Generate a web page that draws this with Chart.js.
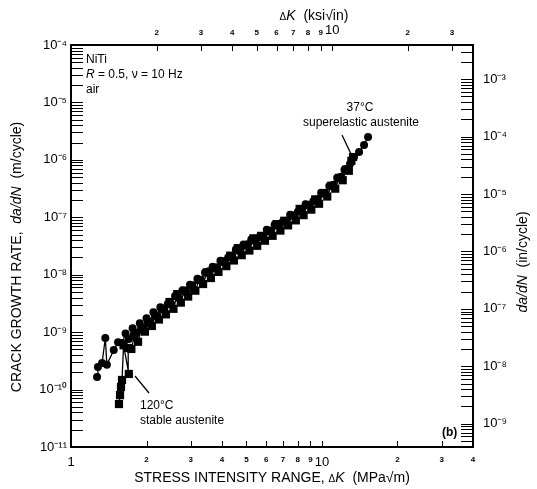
<!DOCTYPE html>
<html><head><meta charset="utf-8">
<script src="https://cdn.jsdelivr.net/npm/chart.js@4.4.0/dist/chart.umd.min.js"></script>
<style>html,body{margin:0;padding:0;background:#fff}canvas{display:block}</style>
</head><body>
<canvas id="c" width="537" height="489"></canvas>
<script>
// ---- data (ΔK in MPa√m, da/dN in m/cycle) ----
const T37_DK = [1.27,1.28,1.33,1.37,1.39,1.48,1.54,1.60,1.65,1.70,1.76,1.82,1.88,1.94,2.00,2.06,2.13,2.20,2.27,2.35,2.43,2.51,2.60,2.69,2.78,2.88,2.98,3.08,3.19,3.30,3.42,3.54,3.67,3.80,3.94,4.08,4.23,4.38,4.54,4.70,4.87,5.05,5.23,5.42,5.62,5.82,6.03,6.25,6.48,6.71,6.96,7.21,7.47,7.74,8.02,8.31,8.61,8.92,9.24,9.58,9.93,10.3,10.7,11.1,11.5,11.9,12.3,12.6,12.94,13.42,14.06,14.72,15.27];
const T37_RATE = [1.66e-10,2.47e-10,2.90e-10,7.9e-10,2.7e-10,4.9e-10,6.7e-10,6.5e-10,9.5e-10,7.6e-10,1.17e-9,9.7e-10,1.43e-9,1.19e-9,1.75e-9,1.51e-9,2.21e-9,1.89e-9,2.70e-9,2.48e-9,3.10e-9,3.08e-9,4.27e-9,3.89e-9,5.29e-9,4.91e-9,6.70e-9,5.60e-9,8.53e-9,7.99e-9,1.09e-8,1.15e-8,1.38e-8,1.34e-8,1.75e-8,1.71e-8,2.00e-8,2.11e-8,2.75e-8,2.59e-8,3.37e-8,3.40e-8,4.10e-8,3.83e-8,4.50e-8,4.70e-8,6.05e-8,5.78e-8,7.40e-8,7.07e-8,8.20e-8,8.69e-8,1.11e-7,1.07e-7,1.25e-7,1.33e-7,1.68e-7,1.64e-7,1.90e-7,2.07e-7,2.68e-7,2.68e-7,3.51e-7,3.67e-7,4.86e-7,5.08e-7,6.70e-7,7.02e-7,8.5e-7,1.12e-6,1.37e-6,1.82e-6,2.50e-6];
const T120_DK = [1.553,1.568,1.582,1.597,1.62,1.70,1.69,1.74,1.79,1.85,1.91,1.97,2.03,2.10,2.17,2.24,2.31,2.39,2.47,2.56,2.65,2.74,2.83,2.93,3.03,3.13,3.24,3.36,3.48,3.61,3.74,3.87,4.01,4.16,4.31,4.46,4.62,4.79,4.96,5.14,5.33,5.52,5.72,5.93,6.14,6.36,6.59,6.83,7.08,7.33,7.60,7.87,8.15,8.45,8.75,9.07,9.40,9.74,10.1,10.5,10.9,11.3,11.7,12.1,12.5,12.8,13.1,13.3];
const T120_RATE = [5.6e-11,8.0e-11,1.11e-10,1.47e-10,5.9e-10,1.87e-10,5.3e-10,5.1e-10,8.6e-10,6.8e-10,1.18e-9,1.02e-9,1.45e-9,1.28e-9,1.95e-9,1.66e-9,2.55e-9,2.04e-9,3.35e-9,2.55e-9,4.60e-9,3.27e-9,5.30e-9,4.17e-9,6.50e-9,5.27e-9,8.10e-9,6.89e-9,1.10e-8,8.76e-9,1.32e-8,1.12e-8,1.68e-8,1.41e-8,2.15e-8,1.77e-8,2.90e-8,2.19e-8,3.25e-8,2.64e-8,4.30e-8,3.19e-8,4.75e-8,3.91e-8,5.80e-8,4.76e-8,7.60e-8,5.87e-8,8.70e-8,7.23e-8,1.07e-7,8.84e-8,1.40e-7,1.09e-7,1.64e-7,1.36e-7,2.05e-7,1.72e-7,2.60e-7,2.30e-7,3.55e-7,3.15e-7,4.85e-7,4.42e-7,6.80e-7,6.46e-7,9.60e-7,1.12e-6];

// ---- axes ----
const X_TICKS = [1,2,3,4,5,6,7,8,9,10,20,30,40];
const X_TICK_LABELS = ['1','2','3','4','5','6','7','8','9','10','2','3','4'];
const X2_TICKS = [2,3,4,5,6,7,8,9,10,20,30];               // ksi√in
const X2_TICK_LABELS = ['2','3','4','5','6','7','8','9','10','2','3'];
const Y_DECADES = [-11,-10,-9,-8,-7,-6,-5,-4];             // m/cycle
const Y2_DECADES = [-10,-9,-8,-7,-6,-5,-4,-3];             // in/cycle
const MULTIPLIERS = [1,2,3,4,5,6,7,8,9];
const MPA_PER_KSI = 1.0988;
const M_PER_IN = 0.0254;
const X_MIN = 1, X_MAX = 40, Y_MIN = 1e-11, Y_MAX = 1e-4;

const FAM = '"Liberation Sans", Arial, Helvetica, sans-serif';
const SUP = {'-':'\u207B','0':'\u2070','1':'\u00B9','2':'\u00B2','3':'\u00B3','4':'\u2074','5':'\u2075','6':'\u2076','7':'\u2077','8':'\u2078','9':'\u2079'};
const sup = s => String(s).split('').map(c => SUP[c]).join('');

function decadeTicks(decades, lo, hi) {
  const out = [];
  decades.forEach(d => MULTIPLIERS.forEach(m => {
    const v = m * Math.pow(10, d);
    if (v >= lo * 0.999 && v <= hi * 1.001) out.push({value: v, major: m === 1, label: m === 1 ? '10' + sup(d) : ''});
  }));
  return out;
}
const yTicks = decadeTicks(Y_DECADES, Y_MIN, Y_MAX);
const y2Ticks = decadeTicks(Y2_DECADES, Y_MIN / M_PER_IN, Y_MAX / M_PER_IN);

const pts = (xs, ys) => xs.map((x, i) => ({x, y: ys[i]}));

function fitBox(size, horiz) {
  return s => { if (horiz) s.height = size; else s.width = size; };
}

const tickFont = ctx => {
  const lbl = ctx.tick && ctx.tick.label;
  return (lbl === '1' || lbl === '10') ? {family: FAM, size: 13} : {family: FAM, size: 8, weight: 'bold'};
};

// ---- inward tick marks ----
const tickMarks = {
  id: 'tickMarks',
  afterDraw(chart) {
    const c = chart.ctx, a = chart.chartArea, S = chart.scales;
    c.save();
    c.strokeStyle = '#000';
    c.lineWidth = 1;
    const seg = (x1, y1, x2, y2) => { c.beginPath(); c.moveTo(x1, y1); c.lineTo(x2, y2); c.stroke(); };
    S.x.ticks.forEach(t => { const p = Math.round(S.x.getPixelForValue(t.value)) + 0.5; if (p > a.left + 2 && p < a.right - 2) seg(p, a.bottom, p, a.bottom - 6); });
    S.x2.ticks.forEach(t => { const p = Math.round(S.x2.getPixelForValue(t.value)) + 0.5; if (p > a.left + 2 && p < a.right - 2) seg(p, a.top, p, a.top + 6); });
    S.y.ticks.forEach(t => { const p = Math.round(S.y.getPixelForValue(t.value)) + 0.5; if (p > a.top + 1 && p < a.bottom - 1) seg(a.left, p, a.left + 12, p); });
    S.y2.ticks.forEach(t => { const p = Math.round(S.y2.getPixelForValue(t.value)) + 0.5; if (p > a.top + 1 && p < a.bottom - 1) seg(a.right, p, a.right - 12, p); });
    c.restore();
  }
};

// ---- titles and annotations (mixed roman/italic text) ----
function rich(c, segs, x, y, align, rot) {
  c.save();
  c.translate(x, y);
  if (rot) c.rotate(rot);
  let w = 0;
  segs.forEach(s => { c.font = s[1]; w += c.measureText(s[0]).width; });
  let cx = align === 'center' ? -w / 2 : 0;
  c.textBaseline = 'middle';
  c.textAlign = 'left';
  c.fillStyle = '#000';
  segs.forEach(s => { c.font = s[1]; c.fillText(s[0], cx, s[2] || 0); cx += c.measureText(s[0]).width; });
  c.restore();
}
const R14 = '14px ' + FAM, I14 = 'italic 14px ' + FAM, D10 = '10px ' + FAM;
const R12 = '12px ' + FAM, I12 = 'italic 12px ' + FAM;

const labels = {
  id: 'labels',
  afterDraw(chart) {
    const c = chart.ctx;
    rich(c, [['STRESS INTENSITY RANGE, ', R14], ['\u0394', D10, 1], ['K', I14], ['  (MPa\u221Am)', R14]], 272, 478, 'center');
    rich(c, [['\u0394', D10, 1], ['K', I14], ['  (ksi\u221Ain)', R14]], 314, 16, 'center');
    rich(c, [['CRACK GROWTH RATE,  ', R14], ['da/dN', I14], ['  (m/cycle)', R14]], 17, 257, 'center', -Math.PI / 2);
    rich(c, [['da/dN', I14], ['  (in/cycle)', R14]], 523, 262, 'center', -Math.PI / 2);
    rich(c, [['NiTi', R12]], 86, 60, 'left');
    rich(c, [['R', I12], [' = 0.5, \u03BD = 10 Hz', R12]], 86, 75, 'left');
    rich(c, [['air', R12]], 86, 90, 'left');
    rich(c, [['37\u00B0C', R12]], 360, 108, 'center');
    rich(c, [['superelastic austenite', R12]], 361, 123, 'center');
    rich(c, [['120\u00B0C', R12]], 140, 406, 'left');
    rich(c, [['stable austenite', R12]], 140, 421, 'left');
    rich(c, [['(b)', 'bold 12px ' + FAM]], 442, 433, 'left');
    c.save();
    c.strokeStyle = '#000'; c.lineWidth = 1.3;
    c.beginPath(); c.moveTo(342, 135); c.lineTo(351, 154); c.stroke();
    c.beginPath(); c.moveTo(135, 376); c.lineTo(149, 393); c.stroke();
    c.restore();
  }
};

const axisCommon = {
  type: 'logarithmic',
  grid: {display: false, drawTicks: false},
  border: {display: true, color: '#000', width: 2},
};

new Chart(document.getElementById('c'), {
  type: 'scatter',
  data: {
    datasets: [
      {label: '37\u00B0C superelastic austenite', data: pts(T37_DK, T37_RATE), showLine: true,
       borderColor: '#000', borderWidth: 1.3, backgroundColor: '#000', pointStyle: 'circle',
       pointRadius: 4.0, pointBorderWidth: 0, xAxisID: 'x', yAxisID: 'y'},
      {label: '120\u00B0C stable austenite', data: pts(T120_DK, T120_RATE), showLine: true,
       borderColor: '#000', borderWidth: 1.3, backgroundColor: '#000', pointStyle: 'rect',
       pointRadius: 5.8, pointBorderWidth: 0, xAxisID: 'x', yAxisID: 'y'}
    ]
  },
  options: {
    responsive: false, animation: false, devicePixelRatio: 1,
    layout: {padding: 0},
    plugins: {legend: {display: false}, tooltip: {enabled: false}},
    scales: {
      x: {...axisCommon, position: 'bottom', min: X_MIN, max: X_MAX,
          afterFit: fitBox(42, true),
          afterBuildTicks: s => { s.ticks = X_TICKS.map((v, i) => ({value: v, label: X_TICK_LABELS[i]})); },
          ticks: {autoSkip: false, maxRotation: 0, padding: 8, color: '#000',
                  callback: (v, i) => X_TICK_LABELS[i], font: tickFont}},
      x2: {...axisCommon, position: 'top', min: X_MIN / MPA_PER_KSI, max: X_MAX / MPA_PER_KSI,
          afterFit: fitBox(45, true),
          afterBuildTicks: s => { s.ticks = X2_TICKS.map((v, i) => ({value: v, label: X2_TICK_LABELS[i]})); },
          ticks: {autoSkip: false, maxRotation: 0, padding: 7, color: '#000',
                  callback: (v, i) => X2_TICK_LABELS[i], font: tickFont}},
      y: {...axisCommon, position: 'left', min: Y_MIN, max: Y_MAX,
          afterFit: fitBox(71, false),
          afterBuildTicks: s => { s.ticks = yTicks.map(t => ({value: t.value})); },
          ticks: {autoSkip: false, padding: 4, color: '#000',
                  callback: (v, i) => yTicks[i].label, font: {family: FAM, size: 13}}},
      y2: {...axisCommon, position: 'right', min: Y_MIN / M_PER_IN, max: Y_MAX / M_PER_IN,
          afterFit: fitBox(64, false),
          afterBuildTicks: s => { s.ticks = y2Ticks.map(t => ({value: t.value})); },
          ticks: {autoSkip: false, padding: 10, color: '#000',
                  callback: (v, i) => y2Ticks[i].label, font: {family: FAM, size: 13}}}
    }
  },
  plugins: [tickMarks, labels]
});
</script>
</body></html>
